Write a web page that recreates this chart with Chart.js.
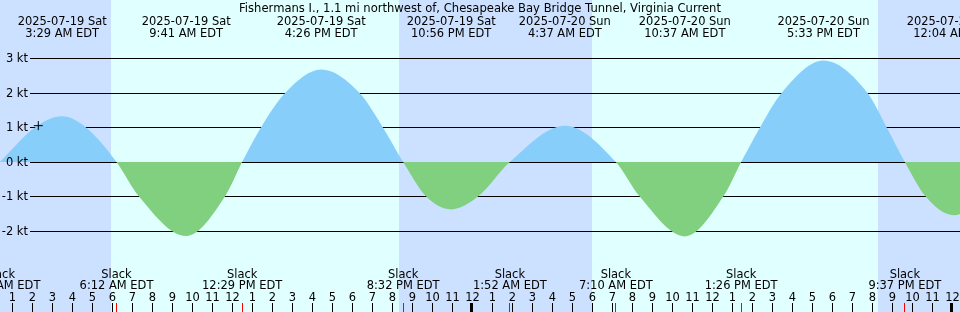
<!DOCTYPE html>
<html><head><meta charset="utf-8">
<script src="https://cdn.jsdelivr.net/npm/chart.js@4.4.0/dist/chart.umd.min.js"></script>
<style>html,body{margin:0;padding:0;background:#e0ffff;overflow:hidden}canvas{display:block}</style>
</head><body>
<canvas id="c" width="960" height="312"></canvas>
<script>
const TITLE = "Fishermans I., 1.1 mi northwest of, Chesapeake Bay Bridge Tunnel, Virginia Current";
// Hours since 2025-07-19 00:00 EDT, current in knots
const curveHours = [0.367, 2.125, 3.483, 4.675, 6.2, 7.325, 9.683, 11.62, 12.483, 13.425, 14.645, 16.433, 18.34, 19.52, 20.533, 21.69, 22.933, 24.275, 25.867, 28.617, 31.167, 32.36, 34.617, 36.54, 37.433, 38.375, 39.465, 41.55, 43.74, 44.71, 45.617, 46.66, 48.067, 49.5, 51.0];
const curveKnots = [0, 1, 1.32, 1, 0, -1, -2.14, -1, 0, 1, 2, 2.67, 2, 1, 0, -1, -1.37, -1, 0, 1.05, 0, -1, -2.15, -1, 0, 1, 2, 2.93, 2, 1, 0, -1, -1.54, -1, 0];
const maxHours = [3.483, 9.683, 16.433, 22.933, 28.617, 34.617, 41.55, 48.067];
const maxDates = ["2025-07-19 Sat", "2025-07-19 Sat", "2025-07-19 Sat", "2025-07-19 Sat", "2025-07-20 Sun", "2025-07-20 Sun", "2025-07-20 Sun", "2025-07-21 Mon"];
const maxTimes = ["3:29 AM EDT", "9:41 AM EDT", "4:26 PM EDT", "10:56 PM EDT", "4:37 AM EDT", "10:37 AM EDT", "5:33 PM EDT", "12:04 AM EDT"];
const slackHours = [0.367, 6.2, 12.483, 20.533, 25.867, 31.167, 37.433, 45.617];
const slackTimes = ["12:22 AM EDT", "6:12 AM EDT", "12:29 PM EDT", "8:32 PM EDT", "1:52 AM EDT", "7:10 AM EDT", "1:26 PM EDT", "9:37 PM EDT"];
const nightStart = [0, 20.325, 44.275];
const nightEnd = [5.925, 29.975, 48.5];
const yTicks = [3, 2, 1, 0, -1, -2];
const yTickLabels = ["3 kt", "2 kt", "1 kt", "0 kt", "-1 kt", "-2 kt"];
const hourLabels = ["1","2","3","4","5","6","7","8","9","10","11","12","1","2","3","4","5","6","7","8","9","10","11","12","1","2","3","4","5","6","7","8","9","10","11","12","1","2","3","4","5","6","7","8","9","10","11","12"];
const hourTicks = hourLabels.map((_, i) => i + 1);
const midnightHours = [24, 48];
const markerHours = [2.29];
const markerKnots = [1.05];

const DAY = '#e0ffff', NIGHT = '#cce0ff', FLOOD = '#87cefa', EBB = '#80d080';
const FONT = "12px 'DejaVu Sans'";
const SX = 0.955;

function txt(ctx, s, x, y, align, sx) {
  ctx.save();
  ctx.translate(x, y);
  ctx.scale(sx || SX, 1);
  ctx.textAlign = align;
  ctx.fillText(s, 0, 0);
  ctx.restore();
}

const plugin = {
  id: 'tideDecor',
  beforeDraw(chart) {
    const {ctx} = chart; const x = chart.scales.x;
    ctx.save();
    ctx.fillStyle = DAY; ctx.fillRect(0, 0, chart.width, chart.height);
    ctx.fillStyle = NIGHT;
    for (let i = 0; i < nightStart.length; i++) {
      const a = Math.round(x.getPixelForValue(nightStart[i]));
      const b = Math.round(x.getPixelForValue(nightEnd[i]));
      ctx.fillRect(a, 0, b - a, chart.height);
    }
    ctx.restore();
  },
  beforeDatasetsDraw(chart) {
    const {ctx} = chart; const y = chart.scales.y;
    ctx.save(); ctx.fillStyle = '#000';
    yTicks.forEach(v => {
      const row = Math.floor(y.getPixelForValue(v) + 0.3);
      ctx.fillRect(30, row, chart.width - 30, 1);
    });
    ctx.restore();
  },
  afterDraw(chart) {
    const {ctx} = chart; const x = chart.scales.x, y = chart.scales.y;
    ctx.save();
    ctx.font = FONT; ctx.fillStyle = '#000'; ctx.textBaseline = 'alphabetic';
    txt(ctx, TITLE, 480, 12, 'center', 0.965);
    maxHours.forEach((h, i) => {
      const px = x.getPixelForValue(h);
      txt(ctx, maxDates[i], px, 25, 'center');
      txt(ctx, maxTimes[i], px, 37, 'center');
    });
    slackHours.forEach((h, i) => {
      const px = x.getPixelForValue(h);
      txt(ctx, 'Slack', px, 278, 'center');
      txt(ctx, slackTimes[i], px, 289, 'center');
    });
    hourTicks.forEach((h, i) => {
      const px = Math.floor(x.getPixelForValue(h));
      txt(ctx, hourLabels[i], px + 0.5, 301, 'center');
      ctx.fillRect(px, 303, 1, 9);
    });
    midnightHours.forEach(h => {
      const px = Math.floor(x.getPixelForValue(h));
      ctx.fillRect(px - 2, 303, 3, 9);
    });
    ctx.fillStyle = '#ff0000';
    slackHours.forEach(h => {
      const px = Math.floor(x.getPixelForValue(h));
      ctx.fillRect(px, 303, 1, 9);
    });
    ctx.fillStyle = '#000';
    ctx.textBaseline = 'middle';
    yTicks.forEach((v, i) => {
      const row = Math.floor(y.getPixelForValue(v) + 0.3);
      txt(ctx, yTickLabels[i], 28, row + 1, 'right');
    });
    ctx.restore();
  }
};

new Chart(document.getElementById('c'), {
  type: 'line',
  data: {
    datasets: [
      {
        data: markerHours.map((h, i) => ({x: h, y: markerKnots[i]})),
        showLine: false, pointStyle: 'cross', pointRadius: 4.5,
        borderColor: '#000', backgroundColor: '#000', borderWidth: 1, fill: false, order: 0
      },
      {
        data: curveHours.map((h, i) => ({x: h, y: curveKnots[i]})),
        cubicInterpolationMode: 'monotone',
        borderColor: 'rgba(0,0,0,0)', borderWidth: 0, pointRadius: 0,
        fill: {target: {value: 0}, above: FLOOD, below: EBB}, order: 1
      }
    ]
  },
  options: {
    responsive: false, animation: false, devicePixelRatio: 1,
    layout: {padding: 0, autoPadding: false},
    plugins: {legend: {display: false}, tooltip: {enabled: false}, title: {display: false}},
    scales: {
      x: {type: 'linear', display: false, min: 0.375, max: 48.375},
      y: {type: 'linear', display: false, min: -4.3353, max: 4.6821}
    }
  },
  plugins: [plugin]
});
</script>
</body></html>
